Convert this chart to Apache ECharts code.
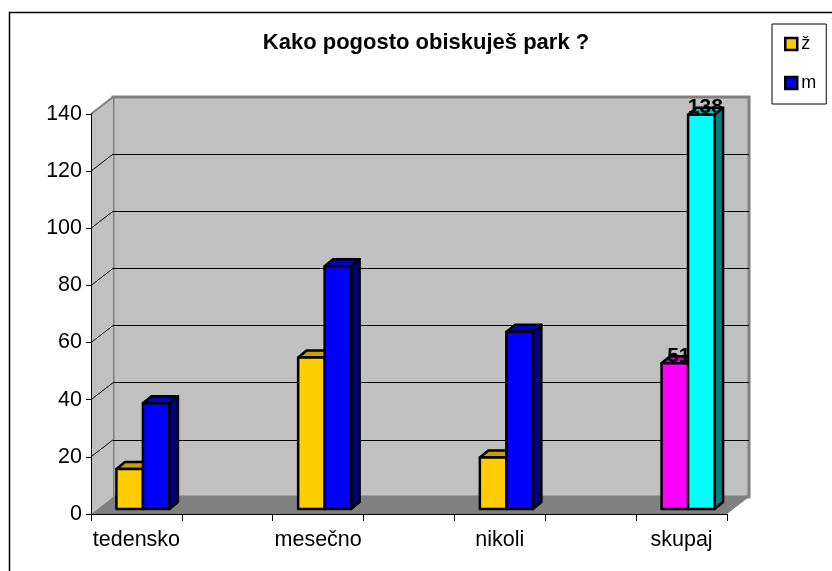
<!DOCTYPE html>
<html>
<head>
<meta charset="utf-8">
<style>html,body{margin:0;padding:0;background:#fff}#main{width:832px;height:571px}</style>
<script src="https://cdn.jsdelivr.net/npm/echarts@6/dist/echarts.min.js"></script>
</head>
<body>
<div id="main"></div>
<script>
var categories = ['tedensko', '', 'mesečno', '', 'nikoli', '', 'skupaj'];
var zenske = [14, null, 53, null, 18, null, 51];
var moski = [37, null, 85, null, 62, null, 138];
var yTicks = [0, 20, 40, 60, 80, 100, 120, 140];
var fontName = '"Liberation Sans", Arial, sans-serif';

// 3D look: wall depth and bar depth in pixels
var wallDx = 22, wallDy = 17;
var barDx = 8.5, barDy = 7;
var barW = 26.5;
var skupajIndex = 6;

var myChart = echarts.init(document.getElementById('main'));

// left wall, floor and the diagonal lines on the left wall
function renderWall(params, api) {
    var sys = params.coordSys;
    var v = api.value(0);
    var y = api.coord([0, v])[1];
    var x0 = sys.x;
    var kids = [];
    if (v === 0) {
        kids.push({
            type: 'polygon',
            shape: { points: [[x0, sys.y], [x0 + wallDx, sys.y - wallDy], [x0 + wallDx, y - wallDy], [x0, y]] },
            style: { fill: '#c0c0c0' }
        });
        kids.push({
            type: 'polygon',
            shape: { points: [[x0, y], [x0 + wallDx, y - wallDy], [x0 + sys.width + wallDx, y - wallDy], [x0 + sys.width, y]] },
            style: { fill: '#808080' }
        });
    } else {
        var top = v === yTicks[yTicks.length - 1];
        kids.push({
            type: 'line',
            shape: { x1: x0, y1: y, x2: x0 + wallDx, y2: y - wallDy },
            style: { stroke: top ? '#808080' : '#000', lineWidth: top ? 2 : 1 }
        });
    }
    return { type: 'group', children: kids };
}

// one 3D bar: cap, value label, side, front
function barRenderer(colors, hiColors, shift) {
    return function (params, api) {
        var v = api.value(1);
        if (isNaN(v)) return;
        var idx = api.value(0);
        var c = colors;
        if (idx === skupajIndex) c = hiColors;
        var p = api.coord([idx, v]);
        var b = api.coord([idx, 0]);
        var x = p[0] + shift;
        var top = p[1] - 5;
        var base = b[1] - 5;
        var line = { stroke: '#000', lineWidth: 2.5, lineJoin: 'round' };
        var kids = [
            {
                type: 'polygon',
                shape: { points: [[x, top], [x + barDx, top - barDy], [x + barW + barDx, top - barDy], [x + barW, top]] },
                style: Object.assign({ fill: c[1] }, line)
            }
        ];
        if (idx === skupajIndex) {
            kids.push({
                type: 'text',
                style: {
                    x: x + barW / 2 + 4, y: top + 3, text: String(v),
                    fontFamily: fontName, fontSize: 21, fontWeight: 'bold',
                    fill: '#000', align: 'center', verticalAlign: 'bottom'
                }
            });
        }
        kids.push({
            type: 'polygon',
            shape: { points: [[x + barW, top], [x + barW + barDx, top - barDy], [x + barW + barDx, base - barDy], [x + barW, base]] },
            style: Object.assign({ fill: c[2] }, line)
        });
        kids.push({
            type: 'rect',
            shape: { x: x, y: top, width: barW, height: base - top },
            style: Object.assign({ fill: c[0] }, line)
        });
        return { type: 'group', children: kids };
    };
}

function toPoints(arr) {
    return arr.map(function (v, i) { return [i, v]; });
}

var option = {
    backgroundColor: '#fff',
    animation: false,
    title: {
        text: 'Kako pogosto obiskuješ park ?',
        left: 421,
        top: 27,
        textAlign: 'center',
        textStyle: { fontFamily: fontName, fontSize: 22, fontWeight: 'bold', color: '#000' }
    },
    legend: {
        orient: 'vertical',
        left: 772,
        top: 24,
        padding: [9, 10, 10, 12],
        itemGap: 17,
        itemWidth: 12,
        itemHeight: 12,
        icon: 'rect',
        borderColor: '#000',
        borderWidth: 1,
        borderRadius: 0,
        itemStyle: { borderColor: '#000', borderWidth: 2.5 },
        textStyle: { fontFamily: fontName, fontSize: 18, color: '#000', padding: [0, 0, 0, -1], lineHeight: 22 },
        data: ['ž', 'm']
    },
    grid: [
        { left: 91, top: 114, width: 636, height: 400, show: false },
        {
            left: 113, top: 97, width: 636, height: 400, show: true,
            backgroundColor: '#c0c0c0', borderColor: '#808080', borderWidth: 3
        }
    ],
    xAxis: [
        {
            type: 'category',
            gridIndex: 0,
            data: categories,
            z: 5,
            axisLine: { lineStyle: { color: '#000', width: 1 } },
            axisTick: { show: true, length: 7, alignWithLabel: false, interval: 0, lineStyle: { color: '#000' } },
            axisLabel: { interval: 0, margin: 15, color: '#000', fontFamily: fontName, fontSize: 21.5 },
            splitLine: { show: false }
        },
        { type: 'category', gridIndex: 1, data: categories, show: false }
    ],
    yAxis: [
        {
            type: 'value',
            gridIndex: 0,
            min: 0,
            max: 140,
            interval: 20,
            z: 5,
            axisLine: { show: true, lineStyle: { color: '#000', width: 1 } },
            axisTick: { show: true, length: 5, lineStyle: { color: '#000' } },
            axisLabel: { margin: 9, padding: [2, 0, 0, 0], color: '#000', fontFamily: fontName, fontSize: 21.5 },
            splitLine: { show: false }
        },
        {
            type: 'value',
            gridIndex: 1,
            min: 0,
            max: 140,
            interval: 20,
            axisLine: { show: false },
            axisTick: { show: false },
            axisLabel: { show: false },
            splitLine: { show: true, showMinLine: false, showMaxLine: false, lineStyle: { color: '#000', width: 1 } }
        }
    ],
    series: [
        {
            name: 'wall',
            type: 'custom',
            xAxisIndex: 0,
            yAxisIndex: 0,
            z: 1,
            clip: false,
            silent: true,
            encode: { y: 0 },
            data: yTicks.map(function (v) { return [v]; }),
            renderItem: renderWall
        },
        {
            name: 'ž',
            type: 'custom',
            xAxisIndex: 0,
            yAxisIndex: 0,
            z: 6,
            clip: false,
            itemStyle: { color: '#ffcc00' },
            encode: { x: 0, y: 1 },
            data: toPoints(zenske),
            renderItem: barRenderer(['#ffcc00', '#c8a000', '#806600'], ['#ff00ff', '#c000c0', '#800080'], -20)
        },
        {
            name: 'm',
            type: 'custom',
            xAxisIndex: 0,
            yAxisIndex: 0,
            z: 7,
            clip: false,
            itemStyle: { color: '#0000ff' },
            encode: { x: 0, y: 1 },
            data: toPoints(moski),
            renderItem: barRenderer(['#0000ff', '#0000c0', '#000080'], ['#00ffff', '#00c0c0', '#008080'], 6.5)
        }
    ],
    graphic: [
        {
            type: 'polyline',
            z: 0,
            silent: true,
            shape: { points: [[9.5, 571], [9.5, 12.5], [832, 12.5]] },
            style: { stroke: '#000', lineWidth: 1.5, fill: null }
        }
    ]
};

myChart.setOption(option);
</script>
</body>
</html>
